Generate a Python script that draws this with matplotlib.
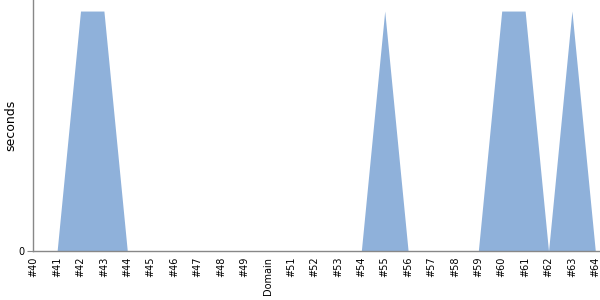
import matplotlib
matplotlib.use('Agg')
import matplotlib.pyplot as plt

# Build labels and durations
labels = ['#40', '#41', '#42', '#43', '#44', '#45', '#46', '#47', '#48', '#49',
          'Domain', '#51', '#52', '#53', '#54', '#55', '#56', '#57', '#58', '#59',
          '#60', '#61', '#62', '#63', '#64']
seconds = [0, 0, 1, 1, 0, 0, 0, 0, 0, 0,
           0, 0, 0, 0, 0, 1, 0, 0, 0, 0,
           1, 1, 0, 1, 0]

fill_color = '#8fb1da'
axis_color = '#888888'

fig = plt.figure(figsize=(6, 3), dpi=100)
ax = fig.add_axes([0.055, 0.163, 0.945, 0.837])

x = list(range(len(labels)))
ax.fill_between(x, seconds, 0, color=fill_color, linewidth=0)

ax.set_xlim(-0.03, len(labels) - 1 + 0.2)
ax.set_ylim(0, 1.046)

ax.set_xticks(x)
ax.set_xticklabels(labels, rotation=90, fontsize=7)
ax.set_yticks([0])
ax.set_yticklabels(['0'], fontsize=7)
ax.tick_params(axis='x', length=0, pad=4)
ax.tick_params(axis='y', length=4, color=axis_color, pad=2)

for side in ['top', 'right']:
    ax.spines[side].set_visible(False)
for side in ['left', 'bottom']:
    ax.spines[side].set_color(axis_color)
    ax.spines[side].set_linewidth(1)

ax.set_ylabel('seconds', fontsize=9)
ax.yaxis.set_label_coords(-0.028, 0.5)

fig.savefig('out.png', dpi=100)
